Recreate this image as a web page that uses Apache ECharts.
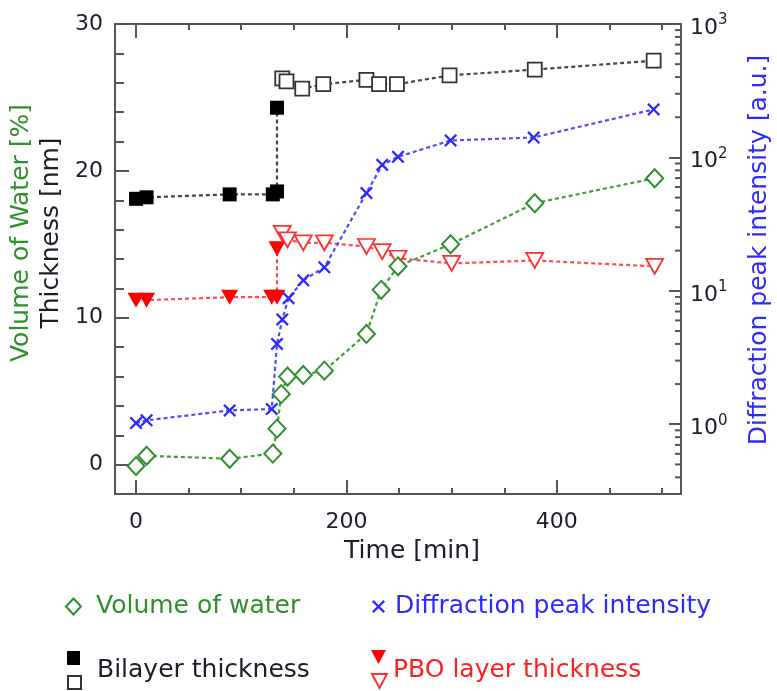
<!DOCTYPE html>
<html>
<head>
<meta charset="utf-8">
<title>Water uptake</title>
<script src="https://cdn.jsdelivr.net/npm/echarts@6/dist/echarts.min.js"></script>
<style>
	html, body { margin: 0; padding: 0; background: #fff; }
	#chart { width: 777px; height: 691px; }
</style>
</head>
<body>
<div id="chart"></div>
<script>
// values, time in [min]
var waterTime = [0, 10, 89, 130, 134, 138, 144, 159, 179, 219, 233, 249, 299, 379, 493];
var waterVol = [-0.1, 0.6, 0.4, 0.75, 2.45, 4.8, 6.0, 6.1, 6.4, 8.9, 11.9, 13.5, 15.0, 17.8, 19.5];

var diffTime = [0, 10, 89, 129, 134, 139, 145, 159, 179, 219, 234, 249, 299, 378, 492];
var diffPeak = [1.02, 1.07, 1.27, 1.30, 4.0, 6.1, 8.8, 12.0, 15.0, 54, 88, 101, 134, 141, 229];

var bilayerTime = [0, 10, 89, 130, 134, 134];
var bilayerNm = [18.1, 18.2, 18.4, 18.4, 18.6, 24.3];
var bilayerWetTime = [139, 143, 158, 178, 219, 231, 248, 298, 379, 492];
var bilayerWetNm = [26.3, 26.1, 25.6, 25.9, 26.2, 25.9, 25.9, 26.5, 26.9, 27.5];

var pboTime = [0, 10, 89, 129, 134, 134];
var pboNm = [11.2, 11.2, 11.4, 11.4, 11.4, 14.7];
var pboWetTime = [139, 144, 159, 179, 219, 234, 249, 300, 379, 493];
var pboWetNm = [15.75, 15.3, 15.1, 15.1, 14.85, 14.5, 14.05, 13.7, 13.9, 13.5];

// minor ticks of the log axis
var logMinorTicks = [0.4, 0.5, 0.6, 0.7, 0.8, 0.9, 2, 3, 4, 5, 6, 7, 8, 9,
	20, 30, 40, 50, 60, 70, 80, 90, 200, 300, 400, 500, 600, 700, 800, 900];

var GREEN = '#2f8f2f';
var BLUE = '#2b2bff';
var RED = '#ff2020';
var INK = '#1c1c2a';
var FRAME = '#555';
var FONT = 'DejaVu Sans';

var triDown = 'path://M0,0L14,0L7,13Z';
var cross = 'path://M0,1.5L1.5,0L6,4.5L10.5,0L12,1.5L7.5,6L12,10.5L10.5,12L6,7.5L1.5,12L0,10.5L4.5,6Z';

function pairs(xs, ys) {
	var out = [];
	for (var i = 0; i < xs.length; i++) {
		out.push([xs[i], ys[i]]);
	}
	return out;
}

function isPow10(v) {
	var l = Math.log(v) / Math.LN10;
	return Math.abs(l - Math.round(l)) < 1e-6;
}

// legend entry with a symbol only (the text sits in a legend of its own)
function iconLegend(name, icon, left, top, w, h) {
	return {
		data: [{ name: name, icon: icon }],
		left: left, top: top, itemWidth: w, itemHeight: h, selectedMode: false,
		formatter: function() { return ''; },
		textStyle: { fontSize: 1 }
	};
}

// legend entry with text only
function textLegend(name, left, top, color, gap) {
	return {
		data: [{ name: name, icon: 'rect' }],
		left: left, top: top, itemWidth: 13, itemHeight: 13, selectedMode: false,
		itemStyle: { opacity: 0 },
		textStyle: { color: color, fontSize: 25, fontFamily: FONT, padding: [0, 0, 0, gap] }
	};
}

var dotted = [4, 3];

var myChart = echarts.init(document.getElementById('chart'));

var xAxisBase = {
	type: 'value',
	min: -20,
	max: 518,
	splitNumber: 3,
	axisLine: { show: true, onZero: false, lineStyle: { color: FRAME, width: 2 } },
	axisTick: { inside: true, length: 14, lineStyle: { color: FRAME, width: 2 } },
	minorTick: { show: true, splitNumber: 4, length: 6, lineStyle: { color: FRAME, width: 2 } },
	splitLine: { show: false }
};

var option = {
	animation: false,
	backgroundColor: '#fff',
	textStyle: { fontFamily: FONT },
	grid: { left: 115, right: 96, top: 24, bottom: 197, containLabel: false, outerBoundsMode: 'none' },
	xAxis: [
		echarts.util.merge({
			position: 'bottom',
			name: 'Time [min]',
			nameLocation: 'middle',
			nameGap: 45,
			nameTextStyle: { color: INK, fontSize: 25, fontFamily: FONT, padding: [0, 0, 0, 28] },
			axisLabel: {
				margin: 17,
				color: INK,
				fontSize: 22,
				fontFamily: FONT,
				formatter: function(v) {
					return Math.abs(v % 200) < 1e-9 ? String(v) : '';
				}
			}
		}, xAxisBase, true),
		echarts.util.merge({
			position: 'top',
			axisLabel: { show: false }
		}, xAxisBase, true)
	],
	yAxis: [
		{
			type: 'value',
			position: 'left',
			min: -2,
			max: 30,
			splitNumber: 3,
			name: '{g|Volume of Water [%]}\n{k|Thickness [nm]}',
			nameLocation: 'middle',
			nameRotate: 90,
			nameGap: 48,
			nameTextStyle: {
				padding: [0, 0, 0, 52],
				rich: {
					g: { color: GREEN, fontSize: 25, fontFamily: FONT, lineHeight: 30 },
					k: { color: INK, fontSize: 25, fontFamily: FONT, lineHeight: 30 }
				}
			},
			axisLine: { show: true, onZero: false, lineStyle: { color: FRAME, width: 2 } },
			axisTick: { inside: true, length: 14, lineStyle: { color: FRAME, width: 2 } },
			minorTick: { show: true, splitNumber: 5, length: 9, lineStyle: { color: FRAME, width: 2 } },
			splitLine: { show: false },
			axisLabel: {
				margin: 12,
				color: INK,
				fontSize: 22,
				fontFamily: FONT,
				formatter: function(v) {
					return Math.abs(v % 10) < 1e-9 ? String(v) : '';
				}
			}
		},
		{
			type: 'log',
			logBase: 10,
			position: 'right',
			min: 0.3,
			max: 1000,
			name: 'Diffraction peak intensity [a.u.]',
			nameLocation: 'middle',
			nameRotate: 90,
			nameGap: 66,
			nameTextStyle: { color: BLUE, fontSize: 25, fontFamily: FONT, padding: [0, 0, 0, 18] },
			axisLine: { show: true, onZero: false, lineStyle: { color: FRAME, width: 2 } },
			axisTick: { inside: true, length: 12, lineStyle: { color: FRAME, width: 2 } },
			splitLine: { show: false },
			axisLabel: {
				margin: 9,
				color: INK,
				formatter: function(v) {
					if (!isPow10(v)) {
						return '';
					}
					return '{b|10}{s|' + Math.round(Math.log(v) / Math.LN10) + '}';
				},
				rich: {
					b: { fontSize: 22, fontFamily: FONT, color: INK, lineHeight: 22, padding: [8, 0, 0, 0] },
					s: { fontSize: 15, fontFamily: FONT, color: INK, lineHeight: 15, verticalAlign: 'top' }
				}
			}
		}
	],
	legend: [
		{
			data: [{ name: 'Volume of water', icon: 'diamond' }],
			left: 60, top: 589, itemWidth: 15, itemHeight: 16, selectedMode: false,
			textStyle: { color: GREEN, fontSize: 25, fontFamily: FONT, padding: [0, 0, 0, 10] }
		},
		{
			data: [{ name: 'Diffraction peak intensity', icon: cross }],
			left: 367, top: 589, itemWidth: 13, itemHeight: 13, selectedMode: false,
			textStyle: { color: BLUE, fontSize: 25, fontFamily: FONT, padding: [0, 0, 0, 5] }
		},
		iconLegend('Bilayer thickness', 'rect', 62, 646, 13, 14),
		iconLegend('Bilayer thickness (wet)', 'rect', 62, 670, 13, 13),
		textLegend('Bilayer thickness', 62, 653, INK, 12),
		iconLegend('PBO layer thickness', triDown, 366, 645, 15, 14),
		iconLegend('PBO layer thickness (wet)', triDown, 366, 668, 15, 14),
		textLegend('PBO layer thickness', 366, 653, RED, 4)
	],
	series: [
		{
			name: 'Bilayer thickness',
			type: 'line',
			data: pairs(bilayerTime, bilayerNm),
			symbol: 'rect',
			symbolSize: 14,
			itemStyle: { color: '#000' },
			lineStyle: { color: '#444', width: 2.2, type: dotted }
		},
		{
			name: 'Bilayer thickness (wet)',
			type: 'line',
			data: pairs(bilayerWetTime, bilayerWetNm),
			symbol: 'rect',
			symbolSize: 14,
			itemStyle: { color: '#fff', borderColor: '#333', borderWidth: 1.8 },
			lineStyle: { color: '#444', width: 2.2, type: dotted }
		},
		{
			name: 'PBO layer thickness',
			type: 'line',
			data: pairs(pboTime, pboNm),
			symbol: triDown,
			symbolSize: [17, 15],
			itemStyle: { color: '#ff0000' },
			lineStyle: { color: '#ff4d4d', width: 2.2, type: dotted }
		},
		{
			name: 'PBO layer thickness (wet)',
			type: 'line',
			data: pairs(pboWetTime, pboWetNm),
			symbol: triDown,
			symbolSize: [17, 15],
			itemStyle: { color: '#fff', borderColor: '#ff3030', borderWidth: 1.8 },
			lineStyle: { color: '#ff4d4d', width: 2.2, type: dotted }
		},
		{
			name: 'Volume of water',
			type: 'line',
			data: pairs(waterTime, waterVol),
			symbol: 'diamond',
			symbolSize: [17, 18],
			itemStyle: { color: '#fff', borderColor: GREEN, borderWidth: 2 },
			lineStyle: { color: '#3f9f3f', width: 2.2, type: dotted }
		},
		{
			name: 'Diffraction peak intensity',
			type: 'line',
			yAxisIndex: 1,
			data: pairs(diffTime, diffPeak),
			symbol: cross,
			symbolSize: 13,
			itemStyle: { color: BLUE },
			lineStyle: { color: '#4d4dff', width: 2.2, type: dotted }
		},
		{
			// short inner ticks for 2..9 of every decade
			type: 'custom',
			yAxisIndex: 1,
			silent: true,
			clip: false,
			data: logMinorTicks.map(function(v) { return [0, v]; }),
			renderItem: function(params, api) {
				var y = api.coord([0, api.value(1)])[1];
				var xr = params.coordSys.x + params.coordSys.width;
				return {
					type: 'line',
					shape: { x1: xr - 6, y1: y, x2: xr, y2: y },
					style: { stroke: FRAME, lineWidth: 2 }
				};
			}
		}
	]
};

myChart.setOption(option);
</script>
</body>
</html>
